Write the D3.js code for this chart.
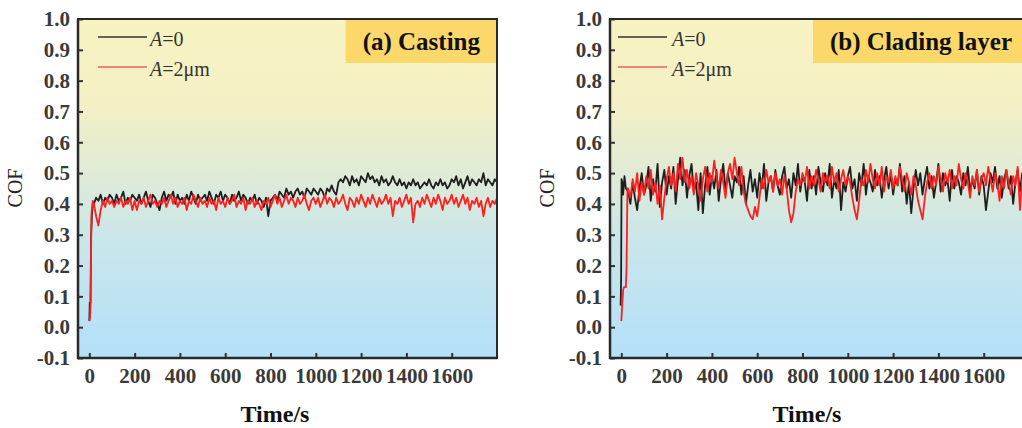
<!DOCTYPE html>
<html><head><meta charset="utf-8">
<script src="https://cdn.jsdelivr.net/npm/d3@7"></script>
<style>body{margin:0;background:#fff;} svg{display:block;}</style>
</head><body><svg id="c" width="1022" height="428"></svg>
<script>
// ---------- data ----------
const xTicks = [0,200,400,600,800,1000,1200,1400,1600];
const xTickLabels = ["0","200","400","600","800","1000","1200","1400","1600"];
const yTicks = [-0.1,0,0.1,0.2,0.3,0.4,0.5,0.6,0.7,0.8,0.9,1.0];
const yTickLabels = ["-0.1","0.0","0.1","0.2","0.3","0.4","0.5","0.6","0.7","0.8","0.9","1.0"];
const seriesNames = ["A=0","A=2μm"];
const panelTitles = ["(a) Casting","(b) Clading layer"];
const xLabel = "Time/s";
const yLabel = "COF";
const sampleStep = 10; // s between readings in the steady part

// Panel (a) Casting — A=0
const aBlackStartT = [0,2,5,8,12,16];
const aBlackStartV = [0.02,0.08,0.08,0.30,0.37,0.40];
const aBlackFrom = 20;
const aBlack = [
0.40,0.42,0.41,0.43,0.40,0.42,0.41,0.43,0.42,
0.40,0.43,0.41,0.42,0.44,0.40,0.42,0.41,0.43,0.42,
0.41,0.43,0.40,0.42,0.44,0.41,0.39,0.43,0.42,0.40,
0.38,0.42,0.44,0.41,0.43,0.42,0.44,0.40,0.43,0.41,
0.42,0.40,0.43,0.41,0.44,0.42,0.40,0.43,0.41,0.42,
0.43,0.41,0.44,0.42,0.40,0.43,0.42,0.44,0.41,0.43,
0.42,0.40,0.43,0.41,0.42,0.44,0.41,0.43,0.42,0.40,
0.42,0.41,0.43,0.40,0.42,0.41,0.39,0.42,0.36,0.41,
0.42,0.43,0.41,0.44,0.43,0.42,0.45,0.43,0.44,0.42,
0.44,0.45,0.43,0.44,0.42,0.45,0.44,0.43,0.45,0.44,
0.43,0.45,0.44,0.42,0.45,0.44,0.46,0.44,0.43,0.47,
0.48,0.47,0.49,0.48,0.46,0.49,0.47,0.48,0.46,0.49,
0.48,0.47,0.50,0.48,0.49,0.47,0.48,0.46,0.49,0.47,
0.48,0.46,0.47,0.49,0.47,0.46,0.48,0.46,0.47,0.45,
0.47,0.46,0.48,0.46,0.47,0.45,0.46,0.47,0.46,0.48,
0.46,0.45,0.47,0.46,0.48,0.46,0.47,0.45,0.46,0.48,
0.47,0.49,0.46,0.48,0.45,0.47,0.49,0.46,0.48,0.47,
0.46,0.48,0.47,0.50,0.46,0.48,0.47,0.46,0.48,0.47];

// Panel (a) Casting — A=2μm
const aRedStartT = [0,3,6,9,12,15];
const aRedStartV = [0.02,0.03,0.08,0.36,0.39,0.41];
const aRedFrom = 20;
const aRed = [
0.40,0.36,0.33,0.38,0.41,0.39,0.42,0.40,0.41,
0.39,0.41,0.40,0.42,0.39,0.41,0.40,0.42,0.38,0.41,
0.38,0.41,0.40,0.42,0.39,0.41,0.43,0.40,0.41,0.39,
0.41,0.40,0.42,0.39,0.41,0.43,0.40,0.42,0.39,0.41,
0.40,0.42,0.38,0.41,0.40,0.43,0.41,0.39,0.42,0.40,
0.41,0.39,0.42,0.40,0.41,0.38,0.42,0.40,0.41,0.39,
0.42,0.40,0.41,0.43,0.39,0.41,0.40,0.42,0.38,0.41,
0.40,0.42,0.39,0.41,0.40,0.38,0.41,0.40,0.42,0.39,
0.41,0.43,0.40,0.42,0.39,0.41,0.43,0.40,0.42,0.41,
0.39,0.42,0.40,0.41,0.43,0.40,0.38,0.41,0.42,0.40,
0.42,0.39,0.41,0.43,0.40,0.42,0.41,0.39,0.42,0.40,
0.41,0.43,0.40,0.38,0.42,0.41,0.39,0.42,0.40,0.43,
0.41,0.39,0.42,0.40,0.43,0.41,0.39,0.42,0.40,0.41,
0.43,0.40,0.42,0.36,0.41,0.40,0.42,0.39,0.41,0.43,
0.40,0.42,0.34,0.40,0.41,0.39,0.42,0.40,0.43,0.41,
0.39,0.42,0.40,0.43,0.41,0.38,0.42,0.40,0.41,0.43,
0.40,0.42,0.39,0.41,0.43,0.40,0.42,0.38,0.41,0.40,
0.42,0.39,0.41,0.36,0.40,0.42,0.39,0.41,0.40,0.42];

// Panel (b) Clading layer — A=0
const bBlackStartT = [-3,-1,1,4,8,14,20];
const bBlackStartV = [0.07,0.15,0.48,0.47,0.43,0.49,0.45];
const bBlackFrom = 30;
const bBlack = [
0.44,0.40,0.47,0.42,0.38,0.45,0.50,0.43,
0.46,0.52,0.41,0.48,0.44,0.53,0.39,0.47,0.51,0.43,
0.49,0.45,0.52,0.40,0.48,0.55,0.46,0.51,0.42,0.49,
0.53,0.44,0.47,0.38,0.50,0.37,0.46,0.52,0.43,0.49,
0.45,0.51,0.41,0.48,0.53,0.44,0.50,0.46,0.42,0.49,
0.47,0.52,0.43,0.49,0.40,0.46,0.51,0.44,0.48,0.42,
0.50,0.45,0.53,0.41,0.47,0.49,0.44,0.51,0.46,0.43,
0.49,0.52,0.45,0.48,0.42,0.50,0.46,0.53,0.44,0.49,
0.47,0.41,0.51,0.45,0.49,0.43,0.52,0.47,0.44,0.50,
0.46,0.53,0.42,0.48,0.45,0.51,0.38,0.47,0.44,0.49,
0.52,0.45,0.48,0.41,0.50,0.46,0.53,0.43,0.49,0.47,
0.44,0.51,0.46,0.49,0.42,0.48,0.52,0.45,0.50,0.43,
0.48,0.46,0.53,0.44,0.49,0.40,0.47,0.37,0.45,0.51,
0.46,0.50,0.43,0.48,0.52,0.45,0.49,0.42,0.47,0.53,
0.44,0.50,0.46,0.48,0.41,0.51,0.45,0.49,0.47,0.43,
0.50,0.46,0.52,0.44,0.48,0.45,0.51,0.43,0.49,0.46,
0.38,0.44,0.50,0.47,0.52,0.45,0.49,0.42,0.48,0.51,
0.45,0.49,0.40,0.47,0.51,0.44,0.50,0.46,0.48,0.45];

// Panel (b) Clading layer — A=2μm
const bRedStartT = [0,3,8,12,20,23,27];
const bRedStartV = [0.02,0.06,0.12,0.13,0.13,0.19,0.45];
const bRedFrom = 30;
const bRed = [
0.45,0.42,0.48,0.44,0.50,0.41,0.47,0.43,
0.49,0.45,0.51,0.43,0.47,0.40,0.46,0.35,0.42,0.48,
0.52,0.46,0.50,0.44,0.53,0.48,0.55,0.47,0.51,0.45,
0.49,0.43,0.50,0.46,0.41,0.48,0.52,0.44,0.50,0.47,
0.54,0.49,0.45,0.51,0.47,0.42,0.50,0.53,0.48,0.55,
0.50,0.46,0.52,0.44,0.40,0.38,0.36,0.35,0.39,0.36,
0.42,0.48,0.45,0.51,0.47,0.49,0.44,0.50,0.46,0.48,
0.43,0.49,0.45,0.38,0.34,0.37,0.44,0.48,0.46,0.50,
0.47,0.52,0.45,0.49,0.46,0.51,0.48,0.44,0.50,0.47,
0.49,0.45,0.52,0.47,0.50,0.44,0.48,0.51,0.46,0.49,
0.47,0.42,0.38,0.35,0.41,0.48,0.46,0.51,0.47,0.53,
0.48,0.45,0.50,0.46,0.52,0.44,0.49,0.47,0.51,0.45,
0.49,0.46,0.52,0.48,0.44,0.50,0.47,0.43,0.49,0.46,
0.41,0.38,0.35,0.42,0.47,0.50,0.45,0.49,0.46,0.52,
0.48,0.44,0.50,0.47,0.51,0.45,0.49,0.46,0.53,0.48,
0.45,0.50,0.47,0.42,0.49,0.46,0.51,0.44,0.48,0.50,
0.46,0.52,0.48,0.44,0.50,0.47,0.41,0.49,0.45,0.51,
0.47,0.43,0.49,0.46,0.52,0.38,0.48,0.45,0.50,0.47];

// ---------- helpers ----------
function buildSeries(startT, startV, from, vals) {
  const pts = startT.map((t, i) => [t, startV[i]]);
  vals.forEach((v, i) => pts.push([from + i * sampleStep, v]));
  return pts;
}

const FONT = "\"Liberation Serif\"";
const svg = d3.select("#c");
svg.append("rect").attr("width",1022).attr("height",428).attr("fill","#fff");
const defs = svg.append("defs");
const grad = defs.append("linearGradient").attr("id","bg")
  .attr("x1",0).attr("y1",0).attr("x2",0).attr("y2",1);
[[0,"#F8F3C1"],[0.25,"#F3F0C5"],[0.45,"#E0EBD5"],[0.65,"#C9E6EA"],[1,"#B4E0F9"]]
  .forEach(s => grad.append("stop").attr("offset",s[0]).attr("stop-color",s[1]));

const TOP = 19, BOTTOM = 358, PW = 419;
const colors = ["#1e1e1e","#ff1f1f"];

function drawPanel(idx, left, legendX1, legendX2, legendTX, series) {
  const x = d3.scaleLinear().domain([-50,1800]).range([left, left + PW]);
  const y = d3.scaleLinear().domain([-0.1,1.0]).range([BOTTOM, TOP]);
  const g = svg.append("g");

  g.append("rect").attr("x",left).attr("y",TOP).attr("width",PW).attr("height",BOTTOM-TOP)
    .attr("fill","url(#bg)");

  const clipId = "clip" + idx;
  defs.append("clipPath").attr("id",clipId).append("rect")
    .attr("x",left).attr("y",TOP).attr("width",PW).attr("height",BOTTOM-TOP);

  const line = d3.line().x(d => x(d[0])).y(d => y(d[1]));
  const lg = g.append("g").attr("clip-path","url(#"+clipId+")");
  series.forEach((s, i) => {
    lg.append("path").attr("d", line(s)).attr("fill","none")
      .attr("stroke", colors[i]).attr("stroke-width",1.8).attr("stroke-linejoin","round");
  });

  // title box
  const tb = g.append("g");
  const tt = tb.append("text").style("font-family",FONT).style("font-weight","bold")
    .style("font-size","25px").attr("fill","#111").attr("text-anchor","middle")
    .text(panelTitles[idx]);
  const tw = tt.node().getComputedTextLength();
  const boxW = tw + 34;
  const boxX = left + PW - boxW;
  tb.insert("rect","text").attr("x",boxX).attr("y",TOP).attr("width",boxW).attr("height",44)
    .attr("fill","#FCD769");
  tt.attr("x", boxX + boxW/2).attr("y", 50);

  // axes
  const ax = g.append("g").attr("transform","translate(0,"+BOTTOM+")")
    .call(d3.axisBottom(x).tickValues(xTicks).tickFormat((d,i) => xTickLabels[i])
      .tickSizeInner(-5).tickSizeOuter(0).tickPadding(10));
  const ay = g.append("g").attr("transform","translate("+left+",0)")
    .call(d3.axisLeft(y).tickValues(yTicks).tickFormat((d,i) => yTickLabels[i])
      .tickSizeInner(-5).tickSizeOuter(0).tickPadding(8));
  [ax, ay].forEach(a => {
    a.selectAll("path").remove();
    a.selectAll("line").attr("stroke","#333").attr("stroke-width",2);
    a.selectAll("text").style("font-family",FONT).style("font-weight","bold")
      .style("font-size","21px").attr("fill","#3a3a3a");
  });

  // frame
  g.append("rect").attr("x",left).attr("y",TOP).attr("width",PW).attr("height",BOTTOM-TOP)
    .attr("fill","none").attr("stroke","#2a2a2a").attr("stroke-width",2);
  g.append("line").attr("x1",left).attr("x2",left).attr("y1",TOP).attr("y2",BOTTOM+1)
    .attr("stroke","#2a2a2a").attr("stroke-width",2.5);
  g.append("line").attr("x1",left-1).attr("x2",left+PW).attr("y1",BOTTOM).attr("y2",BOTTOM)
    .attr("stroke","#2a2a2a").attr("stroke-width",2.5);

  // legend
  seriesNames.forEach((nm, i) => {
    const ly = 37 + i * 30;
    g.append("line").attr("x1",legendX1).attr("x2",legendX2).attr("y1",ly).attr("y2",ly)
      .attr("stroke", i === 0 ? "#333" : "#f06060").attr("stroke-width",1.6);
    const t = g.append("text").attr("x",legendTX).attr("y",ly + 9)
      .style("font-family",FONT).style("font-size","20px").attr("fill","#333");
    t.append("tspan").style("font-style","italic").text(nm.slice(0,1));
    t.append("tspan").text(nm.slice(1));
  });

  // axis titles
  g.append("text").attr("x", left + 197).attr("y", 422).attr("text-anchor","middle")
    .style("font-family",FONT).style("font-weight","bold").style("font-size","24px")
    .attr("fill","#111").text(xLabel);
  g.append("text").attr("transform","translate("+(left-56)+","+188+") rotate(-90)")
    .attr("text-anchor","middle").style("font-family",FONT).style("font-size","20px")
    .attr("fill","#222").text(yLabel);
}

drawPanel(0, 78, 98, 147, 150, [
  buildSeries(aBlackStartT, aBlackStartV, aBlackFrom, aBlack),
  buildSeries(aRedStartT, aRedStartV, aRedFrom, aRed)
]);
drawPanel(1, 610, 618, 667, 672, [
  buildSeries(bBlackStartT, bBlackStartV, bBlackFrom, bBlack),
  buildSeries(bRedStartT, bRedStartV, bRedFrom, bRed)
]);
</script></body></html>
